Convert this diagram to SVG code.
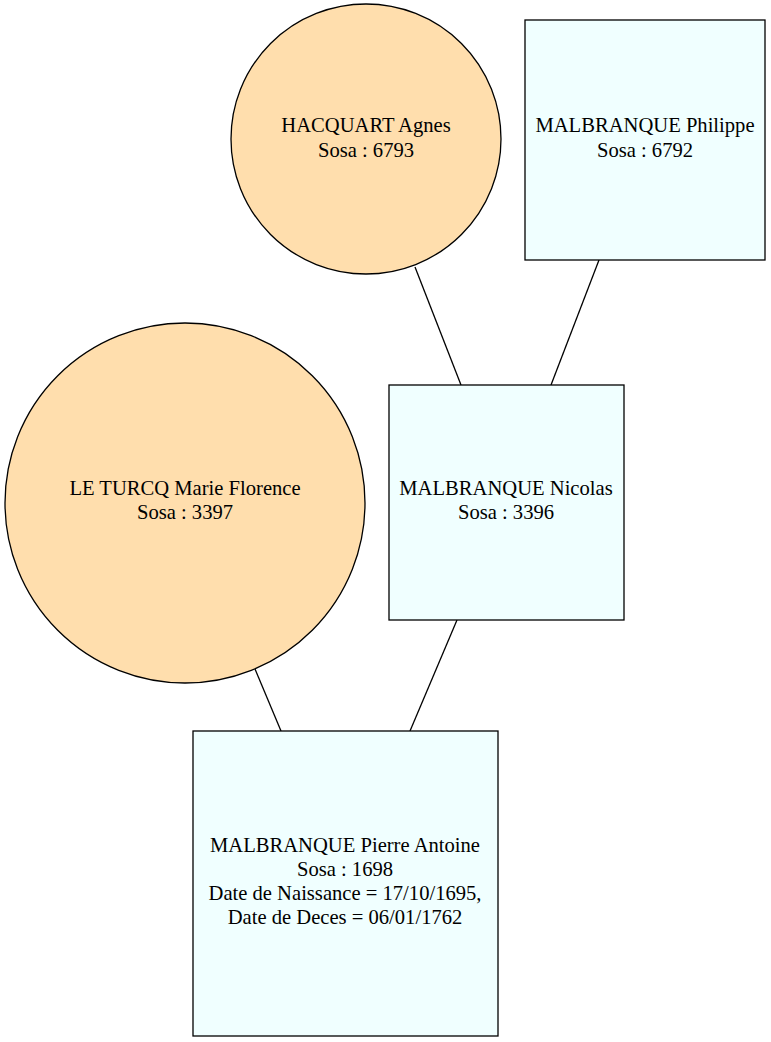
<svg xmlns="http://www.w3.org/2000/svg" width="771" height="1042" viewBox="0 0 771 1042">
<style>
.f{fill:#ffdead;stroke:#000;stroke-width:1.3}
.m{fill:#f0ffff;stroke:#000;stroke-width:1.3}
.e{stroke:#000;stroke-width:1.3;fill:none}
text{font-family:"Liberation Serif","Times New Roman",serif;font-size:20.6px;text-anchor:middle;fill:#000}
</style>
<rect width="771" height="1042" fill="#fff"/>
<g id="edges">
<line class="e" x1="415" y1="267" x2="461" y2="385"/>
<line class="e" x1="599" y1="260" x2="551" y2="385"/>
<line class="e" x1="457" y1="620" x2="410" y2="731"/>
<line class="e" x1="255" y1="669" x2="281" y2="731"/>
</g>
<g id="n6793">
<ellipse class="f" cx="366" cy="139" rx="135" ry="135"/>
<text x="366" y="132">HACQUART Agnes</text>
<text x="366" y="157">Sosa : 6793</text>
</g>
<g id="n6792">
<rect class="m" x="525" y="20" width="240" height="240"/>
<text x="645" y="132">MALBRANQUE Philippe</text>
<text x="645" y="157">Sosa : 6792</text>
</g>
<g id="n3397">
<ellipse class="f" cx="185" cy="503" rx="180" ry="180"/>
<text x="185" y="495">LE TURCQ Marie Florence</text>
<text x="185" y="519">Sosa : 3397</text>
</g>
<g id="n3396">
<rect class="m" x="389" y="385" width="235" height="235"/>
<text x="506" y="495">MALBRANQUE Nicolas</text>
<text x="506" y="519">Sosa : 3396</text>
</g>
<g id="n1698">
<rect class="m" x="193" y="731" width="305" height="305"/>
<text x="345" y="852">MALBRANQUE Pierre Antoine</text>
<text x="345" y="876">Sosa : 1698</text>
<text x="345" y="900">Date de Naissance = 17/10/1695,</text>
<text x="345" y="924">Date de Deces = 06/01/1762</text>
</g>
</svg>
